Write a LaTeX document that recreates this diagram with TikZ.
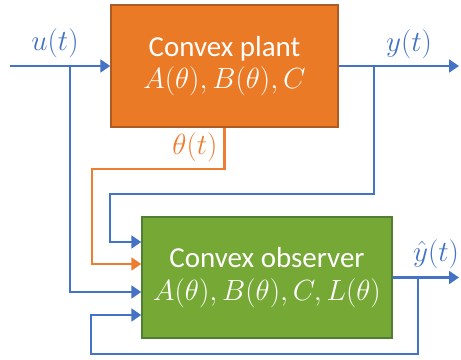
\documentclass[tikz,border=0pt]{standalone}
\usepackage{fontspec}
\setmainfont{Carlito}
\usetikzlibrary{arrows.meta}

\definecolor{sigblue}{HTML}{4472C4}
\definecolor{sigorange}{HTML}{ED7D31}
\definecolor{plantfill}{HTML}{EB7A26}
\definecolor{plantedge}{HTML}{AE5A21}
\definecolor{obsfill}{HTML}{76A836}
\definecolor{obsedge}{HTML}{507E32}

\tikzset{
  block/.style={draw,line width=1pt,align=center,text=white,
    font=\fontsize{20.6}{23}\selectfont,inner sep=0pt},
  sig/.style={line width=2.1pt,sigblue,-{Triangle[length=7pt,width=9pt]}},
  lbl/.style={font=\fontsize{20.6}{23}\selectfont,sigblue,inner sep=0pt}
}

\begin{document}
\begin{tikzpicture}[x=0.025cm,y=-0.025cm]

\useasboundingbox (0,0) rectangle (461,360);

%====================================================
% Blocks
%====================================================
\node[block,fill=plantfill,draw=plantedge,
  minimum width=227*0.025cm,minimum height=122*0.025cm]
  (plant) at (224.5,66) {Convex plant\\$A(\theta), B(\theta), C$};

\node[block,fill=obsfill,draw=obsedge,
  minimum width=250*0.025cm,minimum height=121*0.025cm]
  (observer) at (267,277.5) {Convex observer\\$A(\theta), B(\theta), C, L(\theta)$};

% Observer inputs
\coordinate (in1) at (observer.west |- 0,242);
\coordinate (in2) at (observer.west |- 0,264);
\coordinate (in3) at (observer.west |- 0,292);
\coordinate (in4) at (observer.west |- 0,315);

% Ends and corners
\coordinate (uin) at (10,66);
\coordinate (ub) at (70,66);
\coordinate (yout) at (459,66);
\coordinate (yb) at (374,66);
\coordinate (yL) at (110,194);
\coordinate (thL) at (92,169);
\coordinate (yhout) at (459,277.5);
\coordinate (yhb) at (418,277.5);
\coordinate (yhL) at (91,354);

%====================================================
% Signals
%====================================================
% u(t)
\draw[sig] (uin) -- (plant.west);
\draw[sig] (ub) |- (in3);
\node[lbl] (ulbl) at (55,43) {$u(t)$};

% y(t)
\draw[sig] (plant.east) -- (yout);
\draw[sig] (yb) |- (yL) |- (in1);
\node[lbl] (ylbl) at (409,44) {$y(t)$};

% theta(t)
\draw[sig,sigorange] (plant.south) |- (thL) |- (in2);
\node[lbl,sigorange] (thlbl) at (195,147) {$\theta(t)$};

% yhat(t)
\draw[sig] (observer.east) -- (yhout);
\draw[sig] (yhb) |- (yhL) |- (in4);
\node[lbl] (yhlbl) at (436,254) {$\hat{y}(t)$};

\end{tikzpicture}
\end{document}
